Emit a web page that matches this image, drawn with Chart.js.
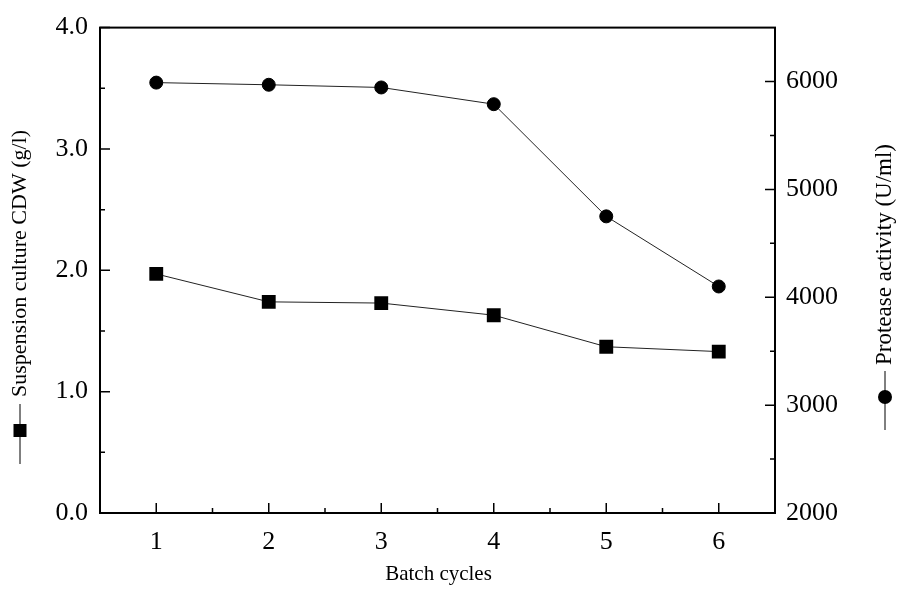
<!DOCTYPE html>
<html>
<head>
<meta charset="utf-8">
<script src="https://cdn.jsdelivr.net/npm/chart.js@4.4.1/dist/chart.umd.min.js"></script>
<style>
  html, body { margin: 0; padding: 0; background: #fff; }
  #wrap { width: 900px; height: 601px; }
</style>
</head>
<body>
<div id="wrap"><canvas id="myChart" width="900" height="601"></canvas></div>
<script>
// values
const cycles = [1, 2, 3, 4, 5, 6];
const cdw = [1.97, 1.74, 1.73, 1.63, 1.37, 1.33];          // g/l, left axis
const protease = [5990, 5970, 5945, 5790, 4750, 4100];     // U/ml, right axis

const xTicks = [1, 2, 3, 4, 5, 6];
const xMinor = [1.5, 2.5, 3.5, 4.5, 5.5];
const leftTicks = [0, 1, 2, 3, 4];
const leftMinor = [0.5, 1.5, 2.5, 3.5];
const rightTicks = [2000, 3000, 4000, 5000, 6000];
const rightMinor = [2500, 3500, 4500, 5500];

Chart.defaults.font.family = "'Liberation Serif', 'Times New Roman', serif";
Chart.defaults.color = '#000';

const FONT_TICK = 26;
const FONT_TITLE = 21;

// box, inward ticks and the two axis titles with their legend symbols
const framePlugin = {
  id: 'frame',
  afterDraw(chart) {
    const { ctx, chartArea: a, scales } = chart;
    const x = scales.x, yl = scales.yL, yr = scales.yR;
    ctx.save();
    ctx.strokeStyle = '#000';
    ctx.lineWidth = 1.5;
    ctx.beginPath();
    const major = 10, minor = 5;
    xTicks.forEach(v => { const p = x.getPixelForValue(v); ctx.moveTo(p, a.bottom); ctx.lineTo(p, a.bottom - major); });
    xMinor.forEach(v => { const p = x.getPixelForValue(v); ctx.moveTo(p, a.bottom); ctx.lineTo(p, a.bottom - minor); });
    leftTicks.forEach(v => { const p = yl.getPixelForValue(v); ctx.moveTo(a.left, p); ctx.lineTo(a.left + major, p); });
    leftMinor.forEach(v => { const p = yl.getPixelForValue(v); ctx.moveTo(a.left, p); ctx.lineTo(a.left + minor, p); });
    rightTicks.forEach(v => { const p = yr.getPixelForValue(v); ctx.moveTo(a.right, p); ctx.lineTo(a.right - major, p); });
    rightMinor.forEach(v => { const p = yr.getPixelForValue(v); ctx.moveTo(a.right, p); ctx.lineTo(a.right - minor, p); });
    ctx.stroke();

    ctx.lineWidth = 2;
    ctx.strokeRect(a.left, a.top, a.right - a.left, a.bottom - a.top);

    // x title
    ctx.fillStyle = '#000';
    ctx.font = FONT_TITLE + "px 'Liberation Serif', serif";
    ctx.textAlign = 'center';
    ctx.textBaseline = 'middle';
    ctx.fillText('Batch cycles', (a.left + a.right) / 2 + 1, 574);

    // left title: -■- then text, reading bottom to top
    ctx.save();
    ctx.translate(20, 0);
    ctx.lineWidth = 1;
    ctx.beginPath(); ctx.moveTo(0, 464); ctx.lineTo(0, 404); ctx.stroke();
    ctx.fillRect(-6.5, 424, 13, 13);
    ctx.font = "22px 'Liberation Serif', serif";
    ctx.translate(0, 397);
    ctx.rotate(-Math.PI / 2);
    ctx.textAlign = 'left';
    ctx.fillText('Suspension culture CDW (g/l)', 0, 0);
    ctx.restore();

    // right title: -●- then text
    ctx.save();
    ctx.translate(885, 0);
    ctx.lineWidth = 1;
    ctx.beginPath(); ctx.moveTo(0, 430); ctx.lineTo(0, 371); ctx.stroke();
    ctx.beginPath(); ctx.arc(0, 397, 7, 0, Math.PI * 2); ctx.fill();
    ctx.font = "23px 'Liberation Serif', serif";
    ctx.translate(0, 365);
    ctx.rotate(-Math.PI / 2);
    ctx.textAlign = 'left';
    ctx.fillText('Protease activity (U/ml)', 0, 0);
    ctx.restore();

    ctx.restore();
  }
};

const ctx = document.getElementById('myChart').getContext('2d');

const myChart = new Chart(ctx, {
  type: 'line',
  data: {
    datasets: [{
      label: 'Suspension culture CDW (g/l)',
      data: cycles.map((c, i) => ({ x: c, y: cdw[i] })),
      yAxisID: 'yL',
      borderColor: '#222',
      borderWidth: 1,
      pointStyle: 'rect',
      pointRadius: 9.8,
      pointBackgroundColor: '#000',
      pointBorderColor: '#000',
      pointBorderWidth: 0,
      tension: 0
    }, {
      label: 'Protease activity (U/ml)',
      data: cycles.map((c, i) => ({ x: c, y: protease[i] })),
      yAxisID: 'yR',
      borderColor: '#222',
      borderWidth: 1,
      pointStyle: 'circle',
      pointRadius: 6.5,
      pointBackgroundColor: '#000',
      pointBorderColor: '#000',
      pointBorderWidth: 1,
      tension: 0
    }]
  },
  options: {
    responsive: false,
    animation: false,
    layout: { padding: { top: 24, left: 0, right: 0, bottom: 0 } },
    plugins: { legend: { display: false }, tooltip: { enabled: false } },
    scales: {
      x: {
        type: 'linear',
        min: 0.5, max: 6.5,
        grid: { display: false, drawTicks: false },
        border: { display: false },
        ticks: { font: { size: FONT_TICK }, padding: 14 },
        afterBuildTicks: s => { s.ticks = xTicks.map(v => ({ value: v })); },
        afterFit: s => { s.height = 88; }
      },
      yL: {
        type: 'linear',
        position: 'left',
        min: 0, max: 4,
        grid: { display: false, drawTicks: false },
        border: { display: false },
        ticks: { font: { size: FONT_TICK }, padding: 12, callback: v => v.toFixed(1) },
        afterBuildTicks: s => { s.ticks = leftTicks.map(v => ({ value: v })); },
        afterFit: s => { s.width = 100; }
      },
      yR: {
        type: 'linear',
        position: 'right',
        min: 2000, max: 6500,
        grid: { display: false, drawTicks: false },
        border: { display: false },
        ticks: { font: { size: FONT_TICK }, padding: 11, callback: v => String(v) },
        afterBuildTicks: s => { s.ticks = rightTicks.map(v => ({ value: v })); },
        afterFit: s => { s.width = 125; }
      }
    }
  },
  plugins: [framePlugin]
});
</script>
</body>
</html>
